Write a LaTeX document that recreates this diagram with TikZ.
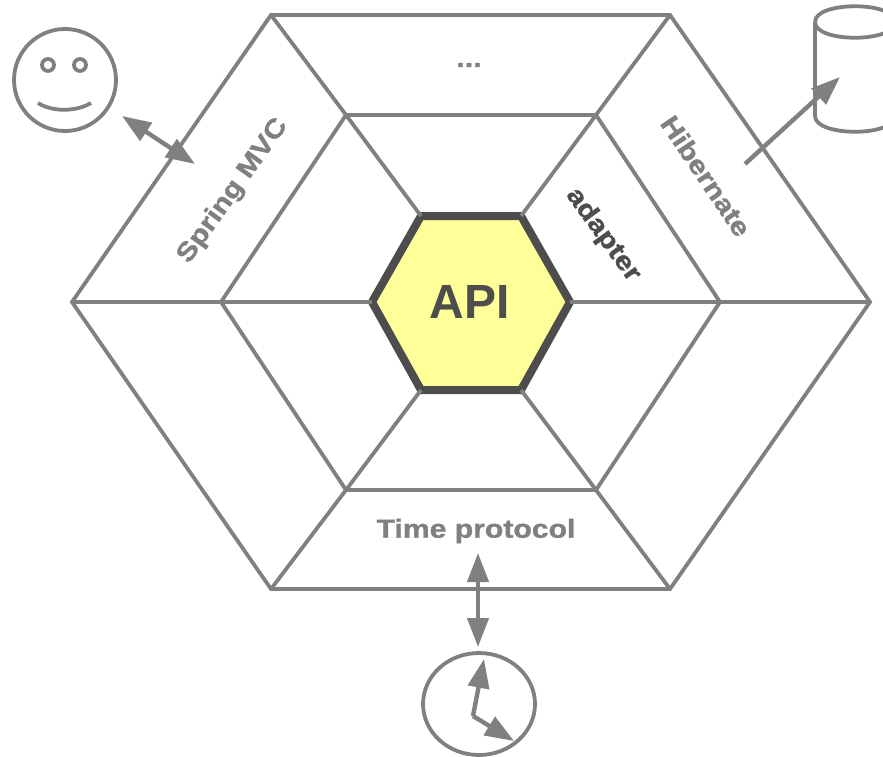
\documentclass[tikz,border=0pt]{standalone}
\usepackage{fontspec}
\setmainfont{Liberation Sans}
\newfontfamily\portfont{Liberation Sans}[BoldFeatures={FakeBold=1.1}]
\usetikzlibrary{arrows.meta,shapes.geometric}
\definecolor{linegray}{HTML}{808080}
\definecolor{coregray}{HTML}{4D4D4D}
\definecolor{coreyellow}{HTML}{FFFF99}
\tikzset{
	hexline/.style={draw=linegray,line width=3.8pt,line join=miter},
	portarrow/.style={linegray,line width=4.4pt,{Triangle[length=29pt,width=21pt]}-{Triangle[length=29pt,width=21pt]}},
	handarrow/.style={linegray,line width=4.4pt,-{Triangle[length=29pt,width=21pt]}},
	portlabel/.style={text=linegray,font=\fontsize{26}{26}\portfont\bfseries,xscale=1.16,transform shape},
}
\begin{document}
\begin{tikzpicture}[x=1pt,y=-1pt]
	\useasboundingbox (0,0) rectangle (883,757);
	% the three rings
	\coordinate (o1) at (72,302);
	\coordinate (o2) at (271,15);
	\coordinate (o3) at (670,15);
	\coordinate (o4) at (870,302);
	\coordinate (o5) at (670,589);
	\coordinate (o6) at (271,589);
	\coordinate (m1) at (221,302);
	\coordinate (m2) at (346,115);
	\coordinate (m3) at (596,115);
	\coordinate (m4) at (720,302);
	\coordinate (m5) at (596,490);
	\coordinate (m6) at (346,490);
	\coordinate (i1) at (372,302);
	\coordinate (i2) at (421,216);
	\coordinate (i3) at (521,216);
	\coordinate (i4) at (570,302);
	\coordinate (i5) at (521,390);
	\coordinate (i6) at (421,390);
	\draw[fill=coreyellow,draw=coregray,line width=8pt,line join=miter] (i1) -- (i2) -- (i3) -- (i4) -- (i5) -- (i6) -- cycle;
	\draw[hexline] (o1) -- (o2) -- (o3) -- (o4) -- (o5) -- (o6) -- cycle;
	\draw[hexline] (m1) -- (m2) -- (m3) -- (m4) -- (m5) -- (m6) -- cycle;
	\foreach \k in {1,...,6} {
		\draw[hexline] (o\k) -- (m\k) -- (i\k);
	}
	% labels
	\node (api) at (470,302) [text=coregray,font=\fontsize{48}{48}\selectfont\bfseries] {API};
	\node (dots) at (469,65) [portlabel] {...};
	\node (spring) at (233,191) [rotate=54.5,portlabel] {Spring MVC};
	\node (hibernate) at (706,176) [rotate=-56,portlabel] {Hibernate};
	\node (adapter) at (603,235) [rotate=-54,portlabel,text=coregray] {adapter};
	\node (time) at (476,531) [portlabel] {Time protocol};
	% user
	\node (user) at (65,80) [circle,draw=linegray,line width=3.8pt,minimum size=102pt,inner sep=0pt] {};
	\node (eyeleft) at (48,65) [circle,draw=linegray,line width=3.8pt,minimum size=12pt,inner sep=0pt] {};
	\node (eyeright) at (80,65) [circle,draw=linegray,line width=3.8pt,minimum size=12pt,inner sep=0pt] {};
	\coordinate (smileleft) at (38,103);
	\coordinate (smileright) at (91,103);
	\draw[linegray,line width=3.8pt] (smileleft) .. controls (52,112) and (76,112) .. (smileright);
	\coordinate (userend) at (122,116);
	\coordinate (userport) at (195,164);
	\draw[portarrow] (userend) -- (userport);
	% database
	\coordinate (dbleft) at (815,22);
	\coordinate (dbbottom) at (815,116);
	\draw[hexline] (dbbottom) -- (dbleft);
	\draw[hexline] (dbleft) .. controls (815,1) and (895,1) .. (895,22) .. controls (895,43) and (815,43) .. (dbleft);
	\draw[hexline] (dbbottom) .. controls (815,137) and (895,137) .. (895,116);
	\coordinate (dbport) at (745,164);
	\coordinate (dbend) at (840,77);
	\draw[handarrow] (dbport) -- (dbend);
	% clock
	\node (clock) at (479,704) [ellipse,draw=linegray,line width=3.8pt,minimum width=112pt,minimum height=102pt,inner sep=0pt] {};
	\coordinate (timeend) at (478,553);
	\coordinate (timeport) at (478,647);
	\draw[portarrow] (timeend) -- (timeport);
	\coordinate (hub) at (473,716);
	\coordinate (handlong) at (484,659);
	\coordinate (handshort) at (514,741);
	\draw[handarrow] (hub) -- (handlong);
	\draw[handarrow] (hub) -- (handshort);
\end{tikzpicture}
\end{document}
